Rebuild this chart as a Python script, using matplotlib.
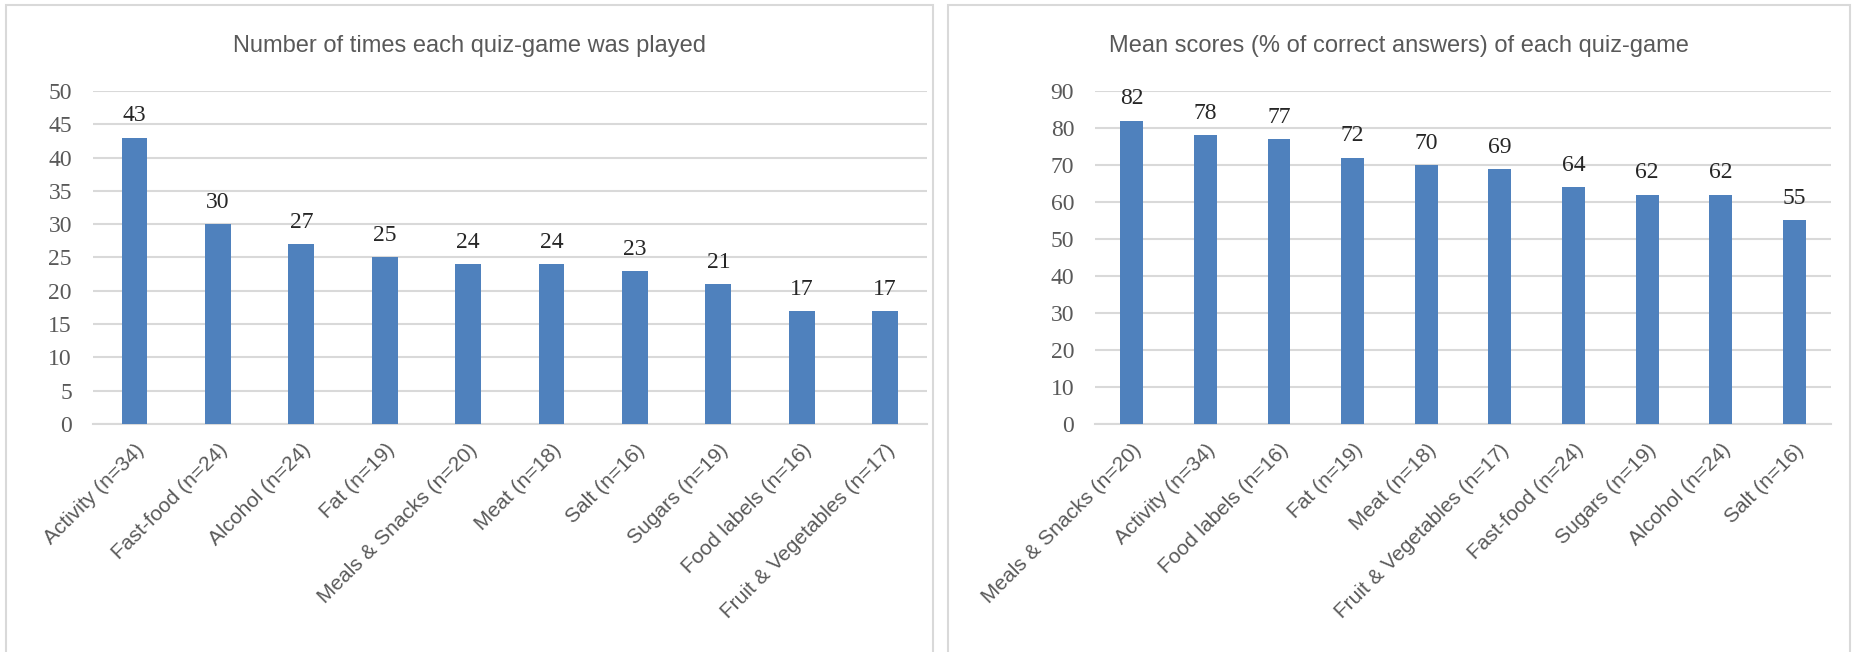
import numpy as np
import matplotlib
matplotlib.use("Agg")
import matplotlib.pyplot as plt
from matplotlib.patches import Rectangle

# left chart: number of times played
games_left = ["Activity (n=34)", "Fast-food (n=24)", "Alcohol (n=24)", "Fat (n=19)",
              "Meals & Snacks (n=20)", "Meat (n=18)", "Salt (n=16)", "Sugars (n=19)",
              "Food labels (n=16)", "Fruit & Vegetables (n=17)"]
times_played = [43, 30, 27, 25, 24, 24, 23, 21, 17, 17]

# right chart: mean scores
games_right = ["Meals & Snacks (n=20)", "Activity (n=34)", "Food labels (n=16)", "Fat (n=19)",
               "Meat (n=18)", "Fruit & Vegetables (n=17)", "Fast-food (n=24)", "Sugars (n=19)",
               "Alcohol (n=24)", "Salt (n=16)"]
mean_scores = [82, 78, 77, 72, 70, 69, 64, 62, 62, 55]

blue = "#4F81BD"
grid = "#D9D9D9"
txt = "#595959"
serif = "Liberation Serif"
sans = ["Liberation Sans", "DejaVu Sans"]

fig = plt.figure(figsize=(18.56, 6.52), dpi=100)

# chart frames (x0, width in figure fraction)
frames = [(0.003, 0.4998), (0.511, 0.486)]
for x0, w in frames:
    fig.patches.append(Rectangle((x0, -0.05), w, 1.043, transform=fig.transFigure,
                                 fill=False, edgecolor="#D9D9D9", lw=1.5))


def draw(ax, frame, cats, vals, ymax, step, title, width):
    x = np.arange(len(cats))
    ax.bar(x, vals, width=width, color=blue, zorder=3)
    for xi, v in zip(x, vals):
        ax.annotate(str(v), (xi, v), xytext=(0, 8), textcoords="offset points",
                    ha="center", va="bottom", fontsize=17, family=serif, color="#262626")
    ax.set_ylim(0, ymax)
    ax.set_xlim(-0.5, len(cats) - 0.5)
    ax.set_yticks(np.arange(0, ymax + 1, step))
    ax.yaxis.grid(True, color=grid, lw=1.5, zorder=0)
    ax.set_axisbelow(True)
    for s in ["top", "right", "left"]:
        ax.spines[s].set_visible(False)
    ax.spines["bottom"].set_color(grid)
    ax.spines["bottom"].set_linewidth(1.5)
    ax.tick_params(axis="y", length=0, pad=15)
    ax.tick_params(axis="x", length=0, pad=12)
    ax.set_xticks(x)
    ax.set_xticklabels(cats, rotation=45, ha="right", rotation_mode="anchor",
                       fontsize=15, family=sans, color=txt)
    for t in ax.get_yticklabels():
        t.set_family(serif)
        t.set_fontsize(17)
        t.set_color(txt)
    fig.text(frame[0] + frame[1] / 2, 0.93, title,
             ha="center", va="center", fontsize=17, family=sans, color=txt)


ax1 = fig.add_axes([0.05, 0.35, 0.4494, 0.5105])
draw(ax1, frames[0], games_left, times_played, 50, 5,
     "Number of times each quiz-game was played", 0.31)

ax2 = fig.add_axes([0.590, 0.35, 0.3966, 0.5105])
draw(ax2, frames[1], games_right, mean_scores, 90, 10,
     "Mean scores (% of correct answers) of each quiz-game", 0.31)

fig.savefig("out.png", dpi=100)
